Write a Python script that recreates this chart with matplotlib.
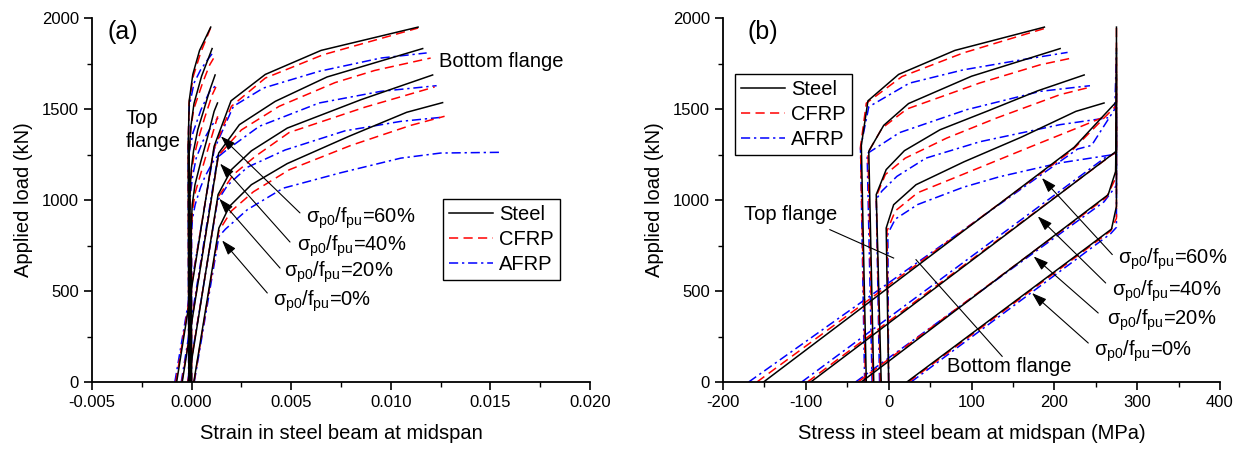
import matplotlib
matplotlib.use("Agg")
import matplotlib.pyplot as plt
from matplotlib.ticker import MultipleLocator, FormatStrFormatter

plt.rcParams['font.family'] = ['Liberation Sans', 'DejaVu Sans']
plt.rcParams['axes.unicode_minus'] = False
plt.rcParams['mathtext.fontset'] = 'custom'
plt.rcParams['mathtext.rm'] = 'Liberation Sans'
plt.rcParams['mathtext.it'] = 'Liberation Sans'
plt.rcParams['mathtext.bf'] = 'Liberation Sans:bold'

LEVELS = [60, 40, 20, 0]
MATERIALS = ['AFRP', 'CFRP', 'Steel']

# ---------------- (a) strain vs load ----------------
# top flange, (strain, load kN)
a_top_steel = {
    60: [(-0.00014, 0), (-0.00017, 1300), (-0.00012, 1545), (0.00006, 1690), (0.0004, 1822), (0.00096, 1950)],
    40: [(-0.00009, 0), (-0.00012, 1268), (-0.00003, 1410), (0.00012, 1530), (0.0005, 1680), (0.00103, 1832)],
    20: [(-0.00005, 0), (-0.00008, 1030), (-0.00002, 1167), (0.0001, 1271), (0.00031, 1386), (0.0006, 1490), (0.0009, 1600), (0.00118, 1687)],
    0:  [(0.0, 0), (-0.00002, 846), (0.00003, 974), (0.00017, 1084), (0.00046, 1210), (0.0008, 1345), (0.00113, 1487), (0.0013, 1533)],
}
a_top_cfrp = {
    60: [(-0.00014, 0), (-0.00017, 1292), (-0.00013, 1532), (0.00008, 1678), (0.00045, 1808), (0.00095, 1945)],
    40: [(-0.0001, 0), (-0.00012, 1260), (-0.00004, 1395), (0.00011, 1500), (0.00055, 1643), (0.00091, 1743), (0.0011, 1778)],
    20: [(-0.00005, 0), (-0.00008, 1020), (-0.00002, 1140), (0.0001, 1230), (0.00035, 1340), (0.00065, 1450), (0.00104, 1579), (0.00122, 1621)],
    0:  [(0.0, 0), (-0.00001, 830), (0.00004, 940), (0.00018, 1040), (0.0005, 1160), (0.00085, 1290), (0.00115, 1400), (0.00131, 1460)],
}
a_top_afrp = {
    60: [(-0.00015, 0), (-0.00017, 1285), (-0.00012, 1512), (0.00012, 1642), (0.00045, 1715), (0.0008, 1770), (0.00108, 1811)],
    40: [(-0.0001, 0), (-0.00013, 1255), (-0.00007, 1290), (0.00007, 1370), (0.00047, 1496), (0.00091, 1597), (0.00121, 1628)],
    20: [(-0.00006, 0), (-0.00008, 1005), (-0.00004, 1050), (0.00005, 1130), (0.00023, 1230), (0.00055, 1320), (0.00104, 1414), (0.00133, 1452)],
    0:  [(0.0, 0), (0.0, 815), (0.00004, 895), (0.00018, 975), (0.00045, 1070), (0.00067, 1128), (0.00104, 1204), (0.00136, 1250)],
}
# bottom flange
a_bot_steel = {
    60: [(-0.00075, 0), (0.00113, 1295), (0.00198, 1545), (0.0037, 1690), (0.0065, 1822), (0.01137, 1950)],
    40: [(-0.00047, 0), (0.00136, 1258), (0.0024, 1414), (0.0042, 1542), (0.0068, 1676), (0.0116, 1832)],
    20: [(-0.00017, 0), (0.00133, 1030), (0.002, 1167), (0.003, 1270), (0.0048, 1395), (0.0085, 1551), (0.0121, 1687)],
    0:  [(0.00011, 0), (0.00137, 846), (0.0019, 965), (0.003, 1084), (0.0048, 1200), (0.0079, 1350), (0.0108, 1482), (0.0126, 1535)],
}
a_bot_cfrp = {
    60: [(-0.00079, 0), (0.00112, 1280), (0.002, 1515), (0.0037, 1670), (0.0066, 1798), (0.01137, 1945)],
    40: [(-0.00049, 0), (0.00135, 1245), (0.0025, 1385), (0.0044, 1515), (0.0072, 1645), (0.0092, 1712), (0.012, 1780)],
    20: [(-0.00019, 0), (0.00132, 1015), (0.0021, 1140), (0.0032, 1240), (0.0049, 1371), (0.0087, 1510), (0.0122, 1621)],
    0:  [(0.00012, 0), (0.00137, 830), (0.002, 940), (0.0031, 1045), (0.0049, 1166), (0.008, 1300), (0.011, 1410), (0.0127, 1460)],
}
a_bot_afrp = {
    60: [(-0.00084, 0), (0.00114, 1280), (0.0021, 1515), (0.0036, 1615), (0.0064, 1707), (0.0095, 1780), (0.0118, 1808)],
    40: [(-0.00052, 0), (0.00131, 1235), (0.0017, 1270), (0.0034, 1405), (0.0064, 1533), (0.0095, 1597), (0.0123, 1628)],
    20: [(-0.0002, 0), (0.0013, 995), (0.0018, 1080), (0.0028, 1180), (0.0047, 1275), (0.0077, 1380), (0.0105, 1432), (0.0126, 1455)],
    0:  [(0.000135, 0), (0.00137, 800), (0.0017, 840), (0.0028, 947), (0.0046, 1065), (0.0075, 1150), (0.0105, 1230), (0.0125, 1258), (0.0155, 1262)],
}

# ---------------- (b) stress vs load ----------------
b_top_steel = {
    60: [(-27, 0), (-33, 1300), (-25, 1545), (12, 1690), (80, 1822), (188, 1950)],
    40: [(-18, 0), (-24, 1268), (-6, 1410), (24, 1530), (100, 1680), (207, 1832)],
    20: [(-9, 0), (-15, 1030), (-3, 1167), (19, 1271), (62, 1386), (120, 1490), (180, 1600), (236, 1687)],
    0:  [(0, 0), (-3, 846), (6, 974), (33, 1084), (91, 1210), (160, 1345), (226, 1487), (260, 1533)],
}
b_top_cfrp = {
    60: [(-28, 0), (-34, 1292), (-27, 1532), (16, 1678), (90, 1808), (190, 1945)],
    40: [(-19, 0), (-25, 1260), (-8, 1395), (22, 1500), (110, 1643), (183, 1743), (219, 1778)],
    20: [(-10, 0), (-15, 1020), (-4, 1140), (20, 1230), (70, 1340), (130, 1450), (207, 1579), (244, 1621)],
    0:  [(0, 0), (-2, 830), (8, 940), (35, 1040), (100, 1160), (170, 1290), (230, 1400), (262, 1460)],
}
b_top_afrp = {
    60: [(-29, 0), (-34, 1285), (-24, 1512), (25, 1642), (90, 1715), (160, 1770), (216, 1811)],
    40: [(-20, 0), (-26, 1255), (-14, 1290), (13, 1370), (94, 1496), (183, 1597), (243, 1628)],
    20: [(-11, 0), (-15, 1005), (-8, 1050), (10, 1130), (45, 1230), (110, 1320), (207, 1414), (265, 1452)],
    0:  [(0, 0), (-1, 815), (8, 895), (35, 975), (90, 1070), (134, 1128), (207, 1204), (272, 1250)],
}
b_bot_steel = {
    60: [(-151, 0), (224, 1290), (275, 1540), (275, 1950)],
    40: [(-94, 0), (272, 1258), (275, 1270), (275, 1832)],
    20: [(-33, 0), (265, 1029), (274, 1157), (275, 1687)],
    0:  [(22, 0), (269, 840), (275, 965), (275, 1533)],
}
b_bot_cfrp = {
    60: [(-159, 0), (222, 1275), (275, 1520), (275, 1945)],
    40: [(-98, 0), (270, 1250), (275, 1262), (275, 1780)],
    20: [(-37, 0), (263, 1015), (274, 1120), (275, 1621)],
    0:  [(24, 0), (268, 830), (275, 900), (275, 1460)],
}
b_bot_afrp = {
    60: [(-169, 0), (228, 1280), (245, 1300), (273, 1500), (275, 1811)],
    40: [(-105, 0), (262, 1235), (275, 1260), (275, 1628)],
    20: [(-40, 0), (260, 990), (275, 1080), (275, 1455)],
    0:  [(27, 0), (268, 815), (275, 850), (275, 1262)],
}

STYLE = {
    'Steel': dict(color='black', linestyle='-', lw=1.1),
    'CFRP': dict(color='#ff0000', linestyle=(0, (6, 3.5)), lw=1.1),
    'AFRP': dict(color='#0000ff', linestyle=(0, (6, 2.5, 1.5, 2.5)), lw=1.1),
}

FS_TICK = 12
FS_TEXT = 14.5

fig = plt.figure(figsize=(12.42, 4.53), dpi=100)
ax_a = fig.add_axes([92 / 1242, 71 / 453, 498 / 1242, 364 / 453])
ax_b = fig.add_axes([723 / 1242, 71 / 453, 497 / 1242, 364 / 453])


def draw(ax, series):
    for mat in MATERIALS:
        for flange in series[mat]:
            for lvl in LEVELS:
                pts = flange[lvl]
                ax.plot([p[0] for p in pts], [p[1] for p in pts], **STYLE[mat])


def style_axes(ax):
    for side in ('top', 'right'):
        ax.spines[side].set_visible(False)
    for side in ('left', 'bottom'):
        ax.spines[side].set_linewidth(1.3)
    ax.tick_params(which='major', direction='out', length=6, width=1.2, labelsize=FS_TICK)
    ax.tick_params(which='minor', direction='out', length=3.5, width=1.0)
    ax.set_ylim(0, 2000)
    ax.yaxis.set_major_locator(MultipleLocator(500))
    ax.yaxis.set_minor_locator(MultipleLocator(250))
    ax.set_ylabel('Applied load (kN)', fontsize=FS_TEXT, labelpad=6)


draw(ax_a, {'Steel': [a_top_steel, a_bot_steel], 'CFRP': [a_top_cfrp, a_bot_cfrp], 'AFRP': [a_top_afrp, a_bot_afrp]})
draw(ax_b, {'Steel': [b_top_steel, b_bot_steel], 'CFRP': [b_top_cfrp, b_bot_cfrp], 'AFRP': [b_top_afrp, b_bot_afrp]})

style_axes(ax_a)
ax_a.set_xlim(-0.005, 0.020)
ax_a.xaxis.set_major_locator(MultipleLocator(0.005))
ax_a.xaxis.set_minor_locator(MultipleLocator(0.0025))
ax_a.xaxis.set_major_formatter(FormatStrFormatter('%.3f'))
ax_a.set_xlabel('Strain in steel beam at midspan', fontsize=FS_TEXT, labelpad=10)

style_axes(ax_b)
ax_b.set_xlim(-200, 400)
ax_b.xaxis.set_major_locator(MultipleLocator(100))
ax_b.xaxis.set_minor_locator(MultipleLocator(50))
ax_b.set_xlabel('Stress in steel beam at midspan (MPa)', fontsize=FS_TEXT, labelpad=10)


def ratio_label(pct):
    return r'$σ_{p0}/f_{pu}$=' + f'{pct}%'


arrow_kw = dict(arrowstyle='-|>,head_length=0.9,head_width=0.3', color='black', lw=0.8, shrinkA=0, shrinkB=0)

# panel (a) annotations
ax_a.text(-0.0042, 1925, '(a)', fontsize=18, va='center', ha='left')
ax_a.text(-0.0033, 1383, 'Top\nflange', fontsize=FS_TEXT, va='center', ha='left', linespacing=1.25)
ax_a.text(0.0124, 1762, 'Bottom flange', fontsize=FS_TEXT, va='center', ha='left')
a_notes = [  # level, text xy, arrow tail, arrow tip
    (60, (0.00572, 901), (0.00544, 929), (0.00147, 1350)),
    (40, (0.00528, 745), (0.00494, 769), (0.00143, 1200)),
    (20, (0.00466, 602), (0.00444, 626), (0.00139, 1007)),
    (0, (0.00408, 443), (0.0038, 489), (0.00153, 778)),
]
for lvl, txy, tail, tip in a_notes:
    ax_a.text(txy[0], txy[1], ratio_label(lvl), fontsize=FS_TEXT, va='center', ha='left')
    ax_a.annotate('', xy=tip, xytext=tail, arrowprops=arrow_kw)

# panel (b) annotations
ax_b.text(-170, 1925, '(b)', fontsize=18, va='center', ha='left')
ax_b.text(-175, 923, 'Top flange', fontsize=FS_TEXT, va='center', ha='left')
ax_b.plot([-71, 6], [837, 681], color='black', lw=0.8)
ax_b.text(70, 86, 'Bottom flange', fontsize=FS_TEXT, va='center', ha='left')
ax_b.plot([137, 33], [141, 672], color='black', lw=0.8)
b_notes = [
    (60, (277, 672), (270, 700), (185, 1121)),
    (40, (270, 498), (262, 544), (180, 910)),
    (20, (264, 342), (253, 379), (175, 690)),
    (0, (248, 168), (241, 214), (173, 489)),
]
for lvl, txy, tail, tip in b_notes:
    ax_b.text(txy[0], txy[1], ratio_label(lvl), fontsize=FS_TEXT, va='center', ha='left')
    ax_b.annotate('', xy=tip, xytext=tail, arrowprops=arrow_kw)

# legends
handles = [plt.Line2D([], [], **STYLE[m]) for m in ['Steel', 'CFRP', 'AFRP']]
labels = ['Steel', 'CFRP', 'AFRP']
leg_kw = dict(fontsize=FS_TEXT, frameon=True, fancybox=False, edgecolor='black', framealpha=1,
              handlelength=2.2, handletextpad=0.3, labelspacing=0.3, borderpad=0.3,
              borderaxespad=0, loc='upper left')
la = ax_a.legend(handles, labels, bbox_to_anchor=(443 / 1242, 1 - 199 / 453),
                 bbox_transform=fig.transFigure, **leg_kw)
la.get_frame().set_linewidth(1.0)
lb = ax_b.legend(handles, labels, bbox_to_anchor=(735 / 1242, 1 - 74 / 453),
                 bbox_transform=fig.transFigure, **leg_kw)
lb.get_frame().set_linewidth(1.0)

fig.savefig('out.png', dpi=100)
